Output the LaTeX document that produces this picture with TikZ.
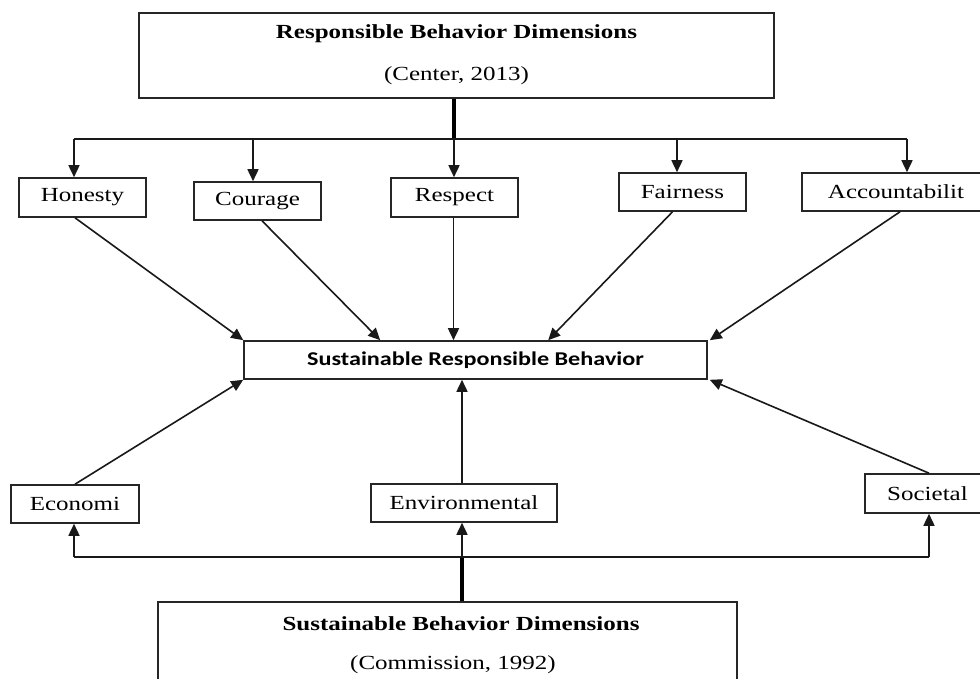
\documentclass[tikz,border=0pt]{standalone}
\usepackage{fontspec}
\setmainfont[FakeStretch=1.25]{Liberation Serif}
\newfontfamily\carlitofont[FakeStretch=1.24]{Carlito}
\usetikzlibrary{arrows.meta,calc}
\begin{document}
\begin{tikzpicture}[x=1pt,y=-1pt,
  box/.style={draw=black!85,line width=1.6pt,inner sep=0pt,font=\fontsize{20}{22}\selectfont},
  conn/.style={draw=black!90,line width=1.6pt},
  thick conn/.style={draw=black,line width=3.2pt},
  arr/.style={conn,-{Triangle[length=12pt,width=11pt]}}]
\useasboundingbox (0,0) rectangle (980,679);
\fill[white] (0,0) rectangle (980,679);
% top box
\node[box,minimum width=635pt,minimum height=85pt] (top) at (456.5,55.5) {};
\node[font=\fontsize{20}{22}\selectfont\bfseries] (toptitle) at (456.5,34) {Responsible Behavior Dimensions};
\node[font=\fontsize{20}{22}\selectfont] (topref) at (456.5,76) {(Center, 2013)};
% value boxes
\node[box,minimum width=127pt,minimum height=39pt] (hon) at (82.5,197.5) {Honesty};
\node[box,minimum width=127pt,minimum height=38pt] (cou) at (257.5,201) {Courage};
\node[box,minimum width=127pt,minimum height=39pt] (res) at (454.5,197.5) {Respect};
\node[box,minimum width=127pt,minimum height=38pt] (fai) at (682.5,192) {Fairness};
\node[box,minimum width=188pt,minimum height=38pt] (acc) at (896,192) {Accountabilit};
% center
\node[box,minimum width=463pt,minimum height=38pt,font=\carlitofont\fontsize{19.5}{22}\selectfont\bfseries] (cen) at (475.5,360) {Sustainable Responsible Behavior};
% sustainability boxes
\node[box,minimum width=128pt,minimum height=38pt] (eco) at (75,504) {Economi};
\node[box,minimum width=186pt,minimum height=38pt] (env) at (464,503) {Environmental};
\node[box,minimum width=125pt,minimum height=39pt] (soc) at (927.5,493.5) {Societal};
% bottom box
\node[box,minimum width=579pt,minimum height=100pt] (bot) at (447.5,652) {};
\node[font=\fontsize{20}{22}\selectfont\bfseries] (bottitle) at (461,624) {Sustainable Behavior Dimensions};
\node[font=\fontsize{20}{22}\selectfont] (botref) at (453,665) {(Commission, 1992)};
% top distribution
\coordinate (tj) at (454,139);
\coordinate (tl) at (74,139);
\coordinate (tc) at (253,139);
\coordinate (tf) at (677,139);
\coordinate (tr) at (907,139);
\draw[thick conn] (tj |- top.south) -- (tj);
\draw[conn] (tl) -- (tr);
\draw[arr] (tl) -- (tl |- hon.north);
\draw[arr] (tc) -- (tc |- cou.north);
\draw[arr] (tj) -- (tj |- res.north);
\draw[arr] (tf) -- (tf |- fai.north);
\draw[arr] (tr) -- (tr |- acc.north);
% values to center
\draw[arr] ([xshift=-7.5pt]hon.south) -- (cen.north west);
\draw[arr] ([xshift=4.5pt]cou.south) -- ([xshift=137pt]cen.north west);
\draw[arr] ([xshift=-1pt]res.south) -- ([xshift=-1pt]res.south |- cen.north);
\draw[arr] ([xshift=-10pt]fai.south) -- ([xshift=305pt]cen.north west);
\draw[arr] ([xshift=4pt]acc.south) -- ([xshift=2pt]cen.north east);
% sustainability to center
\draw[arr] (eco.north) -- (cen.south west);
\draw[arr] ([xshift=-2pt]env.north) -- ([xshift=-2pt]env.north |- cen.south);
\draw[arr] ([xshift=1.5pt]soc.north) -- ([xshift=2pt]cen.south east);
% bottom distribution
\coordinate (bj) at (462,557);
\coordinate (bl) at (74,557);
\coordinate (br) at (929,557);
\draw[thick conn] (bj |- bot.north) -- (bj);
\draw[conn] (bl) -- (br);
\draw[arr] (bj) -- (bj |- env.south);
\draw[arr] (bl) -- (bl |- eco.south);
\draw[arr] (br) -- (br |- soc.south);
\end{tikzpicture}
\end{document}
